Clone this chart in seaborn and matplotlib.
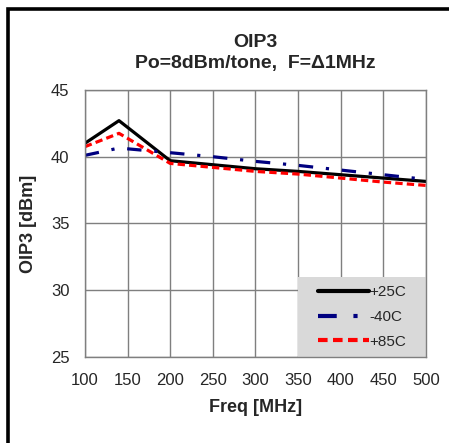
import pandas as pd
import matplotlib
matplotlib.use("Agg")
import matplotlib.pyplot as plt
from matplotlib.patches import Rectangle
import seaborn as sns

# values
freq = [100, 140, 200, 250, 300, 350, 400, 450, 500]
oip3_25c = [41.0, 42.7, 39.7, 39.4, 39.1, 38.9, 38.65, 38.4, 38.15]
oip3_m40c = [40.1, 40.65, 40.3, 40.0, 39.65, 39.35, 39.0, 38.65, 38.3]
oip3_85c = [40.75, 41.75, 39.5, 39.2, 38.9, 38.7, 38.4, 38.1, 37.85]
temps = ["+25C", "-40C", "+85C"]
x_ticks = [100, 150, 200, 250, 300, 350, 400, 450, 500]
y_ticks = [25, 30, 35, 40, 45]

df = pd.concat([
    pd.DataFrame({"Freq": freq, "OIP3": vals, "Temp": t})
    for t, vals in zip(temps, [oip3_25c, oip3_m40c, oip3_85c])
])

sns.set_style("white")
plt.rcParams["font.family"] = ["Liberation Sans", "DejaVu Sans"]

fig = plt.figure(figsize=(4.49, 4.43), dpi=100)
ax = fig.add_axes([0.189, 0.194, 0.760, 0.603])

palette = {"+25C": "#000000", "-40C": "#000080", "+85C": "#ff0000"}
dashes = {"+25C": "", "-40C": (4.5, 4, 1, 4), "+85C": (2.3, 1.3)}
sns.lineplot(data=df, x="Freq", y="OIP3", hue="Temp", style="Temp",
             palette=palette, dashes=dashes, linewidth=2.3, ax=ax)

ax.set_xlim(100, 500)
ax.set_ylim(25, 45)
ax.set_xticks(x_ticks)
ax.set_yticks(y_ticks)
ax.grid(True, color="#7f7f7f", linewidth=1)
ax.set_axisbelow(True)
for s in ax.spines.values():
    s.set_color("#7f7f7f")
    s.set_linewidth(1)
ax.tick_params(axis="x", labelsize=12, length=0, pad=11.5)
ax.tick_params(axis="y", labelsize=12, length=0, pad=11)

ax.set_xlabel("Freq [MHz]", fontsize=13, fontweight="bold", labelpad=8)
ax.set_ylabel("OIP3 [dBm]", fontsize=13, fontweight="bold", labelpad=10)
ax.set_title("OIP3\nPo=8dBm/tone,  F=\u03941MHz", fontsize=14,
             fontweight="bold", pad=16, linespacing=1.25)

# grey legend box sitting in the lower right corner
ax.add_patch(Rectangle((0.625, 0), 0.375, 0.30, transform=ax.transAxes,
                       facecolor="#d9d9d9", edgecolor="none", zorder=2.2))
handles, labels = ax.get_legend_handles_labels()
leg = ax.legend(handles, labels, loc="center", bbox_to_anchor=(0.8125, 0.15),
                fontsize=11, frameon=False, borderpad=0, borderaxespad=0,
                handlelength=3.3, handletextpad=0.05, labelspacing=0.7)
leg.set_zorder(5)
for line in leg.get_lines():
    line.set_linewidth(3)

# black frame around the chart (cut at right and bottom)
fig.patches.append(Rectangle((8 / 449, -0.1), 1.2, 1.1 - 8.5 / 443,
                             transform=fig.transFigure, fill=False,
                             edgecolor="black", linewidth=2.6))

fig.savefig("out.png", dpi=100)
